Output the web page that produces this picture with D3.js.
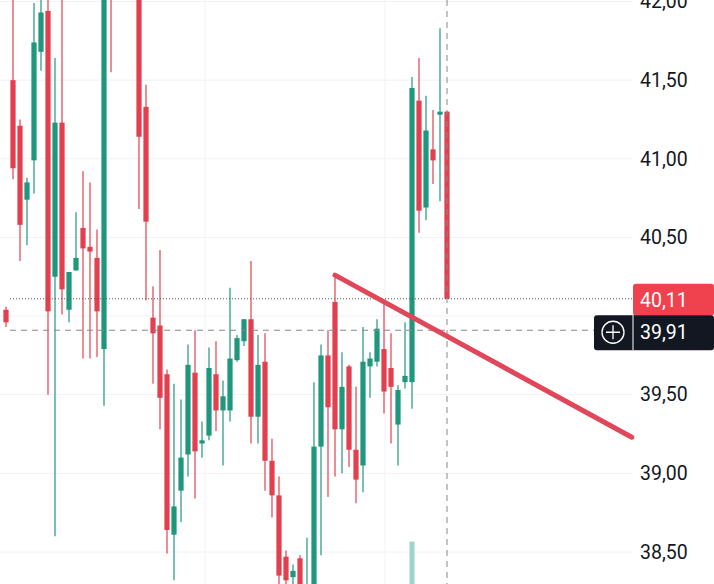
<!DOCTYPE html>
<html><head><meta charset="utf-8">
<script src="https://cdn.jsdelivr.net/npm/d3@7/dist/d3.min.js"></script>
<style>body{margin:0;background:#fff;overflow:hidden}svg{display:block}</style>
</head><body>
<script>
const opens  = [40.04,41.50,41.21,40.74,40.99,41.68,41.94,40.25,41.23,40.04,40.29,40.56,40.44,40.37,39.79,42.39,42.15,42.45,42.30,42.14,41.33,39.99,39.94,39.63,38.61,38.89,39.12,39.64,39.19,39.24,39.63,39.40,39.40,39.72,39.84,39.98,39.36,39.71,39.08,38.86,38.47,38.34,38.46,38.20,38.20,39.17,39.75,40.09,39.28,39.68,39.15,39.05,39.68,39.71,39.79,39.67,39.31,39.58,39.58,41.37,40.69,41.06,41.28,41.30];
const highs  = [40.06,42.07,41.25,40.88,41.99,42.14,42.14,41.64,42.14,40.28,40.66,40.92,40.85,40.55,42.26,42.52,42.55,42.60,42.40,42.20,41.47,40.19,40.42,39.66,39.57,39.47,39.82,39.91,39.33,39.80,39.84,39.59,40.18,39.88,39.98,40.35,39.88,39.89,39.22,38.98,38.51,38.42,38.48,38.59,39.58,39.82,39.91,40.25,39.77,39.69,39.55,39.93,39.77,39.98,40.10,39.89,39.56,39.96,41.52,41.64,41.40,41.31,41.83,41.30];
const lows   = [39.93,40.87,40.35,40.45,40.78,41.56,39.50,38.60,40.01,39.96,40.29,39.73,39.73,39.74,39.43,41.55,42.05,42.10,42.05,40.68,40.10,39.57,39.28,38.49,38.32,38.69,38.98,38.84,39.10,39.21,39.27,39.05,39.33,39.71,39.81,39.19,39.19,38.89,38.72,38.26,38.23,38.26,38.20,38.17,38.13,38.48,38.85,38.98,39.00,39.04,38.81,38.88,39.48,39.68,39.38,39.19,39.05,39.54,39.41,40.53,40.61,40.84,40.73,40.11];
const closes = [39.96,40.94,40.58,40.85,41.74,41.93,40.03,41.23,40.17,40.28,40.37,40.43,40.41,40.03,42.20,42.10,42.45,42.20,42.10,41.14,40.60,39.89,39.48,38.64,38.79,39.10,39.69,39.14,39.21,39.67,39.40,39.49,39.73,39.86,39.98,39.36,39.69,39.08,38.86,38.35,38.32,38.38,38.23,38.26,39.17,39.75,39.42,39.28,39.55,39.15,38.96,39.71,39.73,39.92,39.52,39.55,39.53,39.62,41.45,40.67,41.18,40.99,41.30,40.11];
const gridTicks = [38.5,39.0,39.5,40.0,40.5,41.0,41.5,42.0];
const labelTicks = [38.5,39.0,39.5,40.5,41.0,41.5,42.0];
const lastPrice = 40.11, crossPrice = 39.91, crossIndex = 63;
const trend = [{i:47,p:40.26},{i:89.4,p:39.23}];
const volumeIndex = 58, volumeTop = 0.22;

const W=714,H=584, plotR=632;
const red="#e2404f", green="#1f977d";
const x=d3.scaleLinear().domain([0,63]).range([6,447]);
const y=d3.scaleLinear().domain([42,38.5]).range([1.5,552]);
const svg=d3.select("body").append("svg").attr("width",W).attr("height",H);
const fmt=v=>d3.format(".2f")(v).replace(".",",");

const g=svg.append("g");
g.selectAll(".hg").data(gridTicks).join("line").attr("x1",0).attr("x2",plotR)
 .attr("y1",d=>y(d)).attr("y2",d=>y(d)).attr("stroke","#f0f2f6").attr("stroke-width",1);
g.selectAll(".vg").data([205,385]).join("line").attr("x1",d=>d).attr("x2",d=>d)
 .attr("y1",0).attr("y2",H).attr("stroke","#f0f2f6");

g.append("rect").attr("x",x(volumeIndex)-2.5).attr("width",5)
 .attr("y",H-H*volumeTop*0.33).attr("height",H*volumeTop*0.33).attr("fill","#9ed4cc");

svg.append("clipPath").attr("id","c").append("rect").attr("width",plotR).attr("height",H);
const cg=svg.append("g").attr("clip-path","url(#c)");
const data=opens.map((o,i)=>({i,o,h:highs[i],l:lows[i],c:closes[i]}));
cg.selectAll(".w").data(data).join("line").attr("x1",d=>x(d.i)).attr("x2",d=>x(d.i))
 .attr("y1",d=>y(d.h)).attr("y2",d=>y(d.l)).attr("stroke",d=>d.c>=d.o?green:red).attr("stroke-width",1.2);
cg.selectAll(".b").data(data).join("rect").attr("x",d=>x(d.i)-2.6).attr("width",5.2)
 .attr("y",d=>y(Math.max(d.o,d.c))).attr("height",d=>Math.max(1.5,Math.abs(y(d.o)-y(d.c))))
 .attr("fill",d=>d.c>=d.o?green:red);

svg.append("line").attr("x1",10).attr("x2",plotR).attr("y1",y(lastPrice)).attr("y2",y(lastPrice))
 .attr("stroke","#555").attr("stroke-dasharray","1,2").attr("stroke-width",1);
svg.append("line").attr("x1",10).attr("x2",594).attr("y1",y(crossPrice)).attr("y2",y(crossPrice))
 .attr("stroke","#888").attr("stroke-dasharray","6,5").attr("stroke-width",1);
svg.append("line").attr("x1",x(crossIndex)).attr("x2",x(crossIndex)).attr("y1",0).attr("y2",H)
 .attr("stroke","#888").attr("stroke-dasharray","6,5").attr("stroke-width",1);

svg.append("line").attr("x1",x(trend[0].i)).attr("y1",y(trend[0].p)).attr("x2",x(trend[1].i)).attr("y2",y(trend[1].p))
 .attr("stroke","#e0475a").attr("stroke-width",5).attr("stroke-linecap","round");

const ax=svg.append("g").attr("transform",`translate(${plotR},0)`);
ax.call(d3.axisRight(y).tickValues(labelTicks).tickSize(0).tickPadding(8).tickFormat(fmt));
ax.select(".domain").remove();
ax.selectAll("text").attr("font-family","Roboto").attr("font-size",19.5).attr("fill","#131722");

const cy=y(crossPrice)+2;
svg.append("rect").attr("x",633).attr("y",y(lastPrice)-15).attr("width",81).attr("height",32).attr("rx",3).attr("fill","#f0414f");
svg.append("text").attr("x",640).attr("y",y(lastPrice)+8).text(fmt(lastPrice)).attr("font-family","Roboto").attr("font-size",19.5).attr("fill","#fff");
svg.append("rect").attr("x",594).attr("y",cy-17).attr("width",120).attr("height",35).attr("rx",3).attr("fill","#131722");
svg.append("line").attr("x1",633).attr("x2",633).attr("y1",cy-17).attr("y2",cy+18).attr("stroke","#fff").attr("stroke-width",1);
svg.append("circle").attr("cx",613).attr("cy",cy).attr("r",11).attr("fill","none").attr("stroke","#fff").attr("stroke-width",1.3);
svg.append("path").attr("d",`M606,${cy}h14M613,${cy-7}v14`).attr("stroke","#fff").attr("stroke-width",1.3);
svg.append("text").attr("x",640).attr("y",cy+7).text(fmt(crossPrice)).attr("font-family","Roboto").attr("font-size",19.5).attr("fill","#fff");
</script>
</body></html>
